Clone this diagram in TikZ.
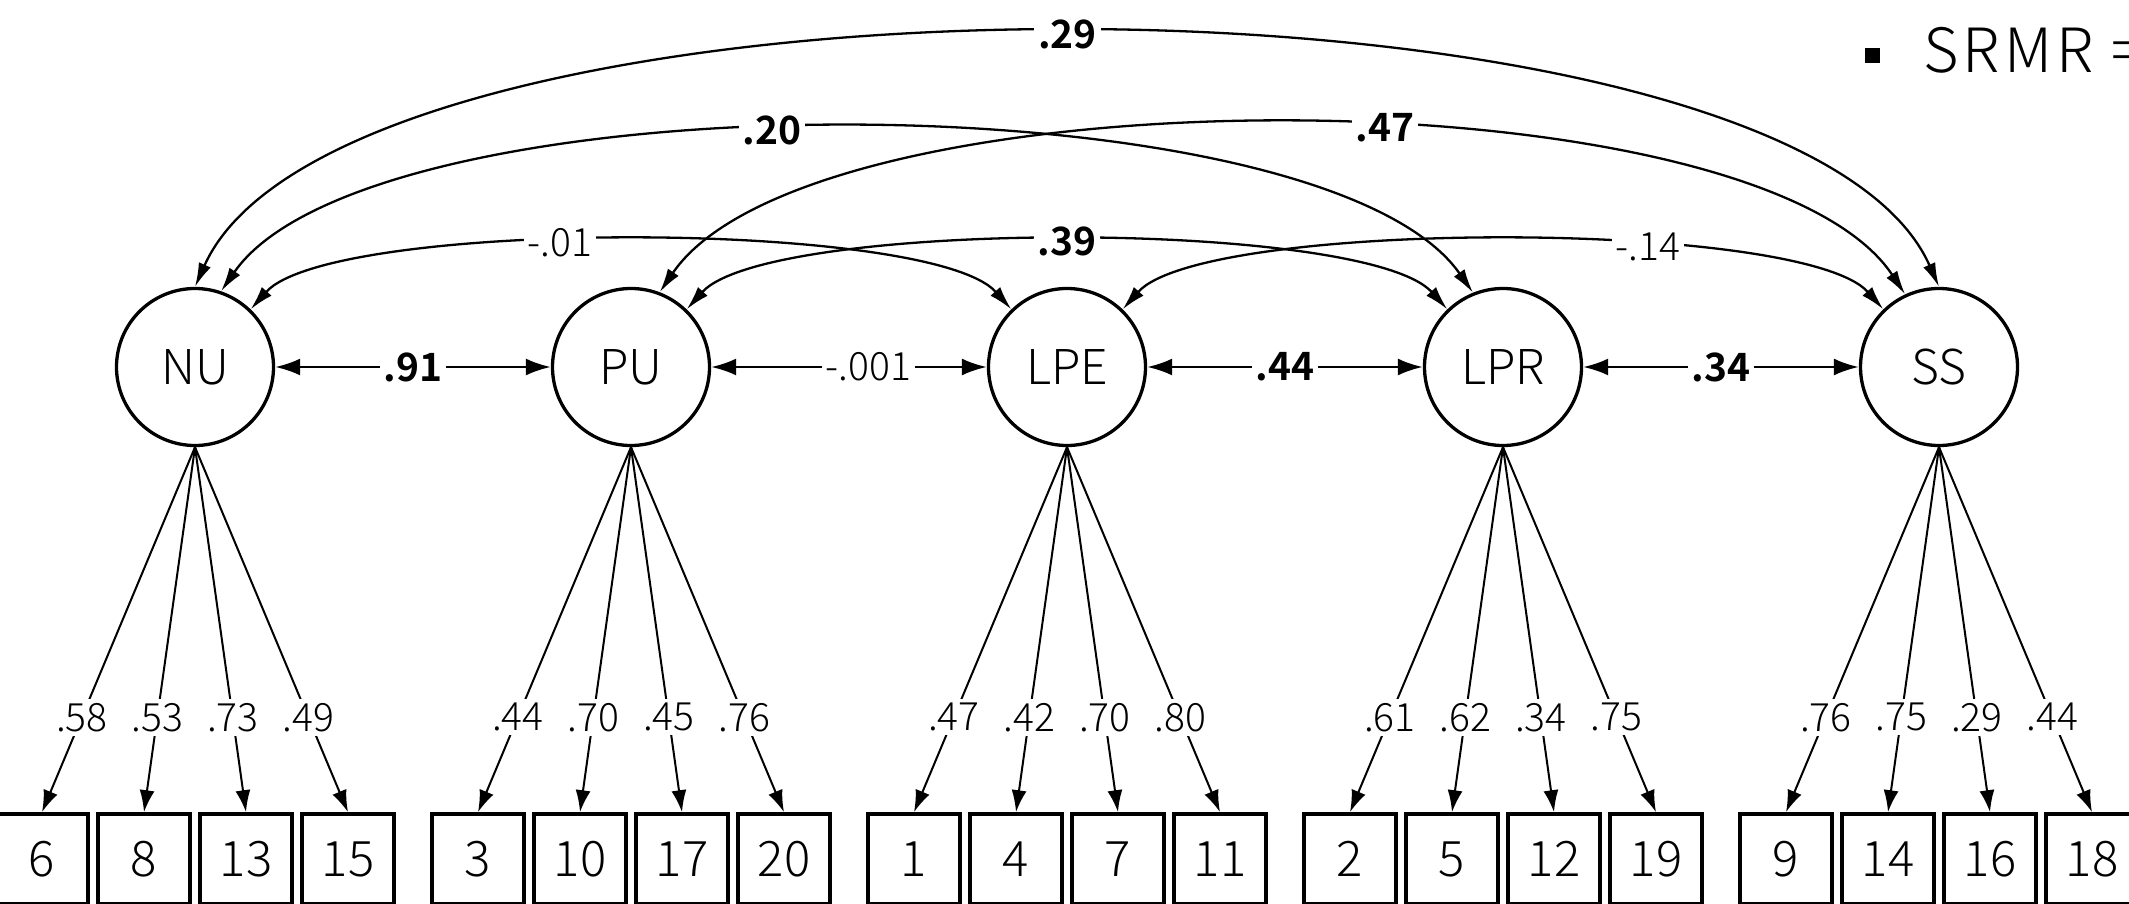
\documentclass[tikz,border=0pt]{standalone}
\usepackage{fontspec}
\setmainfont{Noto Sans CJK JP Light}[BoldFont={Noto Sans CJK JP Bold}]
\usetikzlibrary{arrows.meta}
\begin{document}
\begin{tikzpicture}[x=1pt,y=-1pt,
  latent/.style={circle,draw,line width=3.3pt,minimum size=157pt,inner sep=0pt,font=\fontsize{48}{48}\selectfont},
  obs/.style={rectangle,draw,line width=3.6pt,minimum width=92pt,minimum height=90pt,inner sep=0pt,font=\fontsize{49}{49}\selectfont},
  lab/.style={fill=white,inner sep=4pt,font=\fontsize{39}{39}\selectfont},
  blab/.style={fill=white,inner sep=4pt,font=\fontsize{39}{39}\selectfont\bfseries},
  hcov/.style={line width=2.6pt,{Latex[length=25pt,width=17pt]}-{Latex[length=25pt,width=17pt]}},
  ccov/.style={line width=2.3pt,{Latex[length=24pt,width=13pt]}-{Latex[length=24pt,width=13pt]}},
  load/.style={line width=2pt,-{Latex[length=22pt,width=15pt]}}]
\useasboundingbox[fill=white] (0,0) rectangle (2129,904);

% latent variables
\node[latent] (NU)  at (195,367)  {NU};
\node[latent] (PU)  at (631,367)  {PU};
\node[latent] (LPE) at (1067,367) {LPE};
\node[latent] (LPR) at (1503,367) {LPR};
\node[latent] (SS)  at (1939,367) {SS};

% indicators and loadings
\foreach \lat/\cx/\a/\b/\c/\d/\la/\lb/\lc/\ld in {
  NU/195/6/8/13/15/.58/.53/.73/.49,
  PU/631/3/10/17/20/.44/.70/.45/.76,
  LPE/1067/1/4/7/11/.47/.42/.70/.80,
  LPR/1503/2/5/12/19/.61/.62/.34/.75,
  SS/1939/9/14/16/18/.76/.75/.29/.44}{
  \node[obs] (o\a) at ({\cx-153},859) {\a};
  \node[obs] (o\b) at ({\cx-51},859) {\b};
  \node[obs] (o\c) at ({\cx+51},859) {\c};
  \node[obs] (o\d) at ({\cx+153},859) {\d};
  \draw[load] (\lat.south) -- node[lab,pos=0.74]{\la} (o\a.north);
  \draw[load] (\lat.south) -- node[lab,pos=0.74]{\lb} (o\b.north);
  \draw[load] (\lat.south) -- node[lab,pos=0.74]{\lc} (o\c.north);
  \draw[load] (\lat.south) -- node[lab,pos=0.74]{\ld} (o\d.north);
}

% neighbouring covariances
\draw[hcov] (NU)  -- node[blab]{.91} (PU);
\draw[hcov] (PU)  -- node[lab,pos=0.57]{-.001} (LPE);
\draw[hcov] (LPE) -- node[blab]{.44} (LPR);
\draw[hcov] (LPR) -- node[blab]{.34} (SS);

% curved covariances
\draw[ccov] (NU.90) .. controls (345,-50) and (1790,-50) .. node[blab,pos=0.5]{.29} (SS.90);
\draw[ccov] (NU.71) .. controls (371,75) and (1321,75) .. node[blab,pos=0.455]{.20} (LPR.112);
\draw[ccov] (PU.69) .. controls (812,69) and (1756,69) .. node[blab,pos=0.562]{.47} (SS.115);
\draw[ccov] (NU.46) .. controls (331,219) and (931,219) .. node[lab,pos=0.43]{-.01} (LPE.134);
\draw[ccov] (PU.46) .. controls (768,219) and (1366,219) .. node[blab,pos=0.5]{.39} (LPR.134);
\draw[ccov] (LPE.46) .. controls (1203,219) and (1803,219) .. node[lab,pos=0.645]{-.14} (SS.134);

% fit index
\node[fill=black,minimum size=15pt,inner sep=0pt] (bul) at (1872.5,55.5) {};
\node[anchor=base west,inner sep=0pt,font=\fontsize{61}{61}\selectfont\addfontfeatures{LetterSpace=7}] (srmr) at (1923,73) {SRMR =};
\end{tikzpicture}
\end{document}
